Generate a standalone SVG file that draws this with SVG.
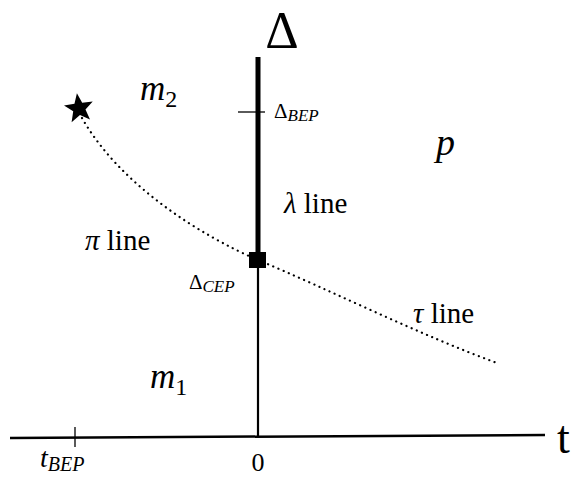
<svg xmlns="http://www.w3.org/2000/svg" width="584" height="479" viewBox="0 0 584 479">
<style>
.ax{stroke:#000;fill:none}
text{font-family:"Liberation Serif","DejaVu Serif",serif;fill:#000}
.m{font-style:italic}
.lbl{font-size:29px}
.dot{stroke:#000;fill:none;stroke-width:2.2;stroke-dasharray:0.1 5.5;stroke-linecap:round}
</style>
<rect width="584" height="479" fill="#fff"/>
<g id="connectors">
<line class="ax" x1="10" y1="438" x2="545" y2="435" stroke-width="2.5"/>
<line class="ax" x1="258" y1="437" x2="258" y2="262" stroke-width="2.2"/>
<line class="ax" x1="258" y1="262" x2="258" y2="57" stroke-width="5"/>
<line class="ax" x1="238" y1="112" x2="265" y2="112" stroke-width="1.3"/>
<line class="ax" x1="75" y1="427" x2="75" y2="447" stroke-width="1.3"/>
<path class="dot" d="M82,118 C120,185 200,235 258,260 C330,290 420,335 497,363"/>
</g>
<g id="star"><polygon points="79,93 82.9,103.2 93.5,103.5 85.2,110.5 88.3,121 79,115 69.7,121 72.8,110.5 64.5,103.5 75.1,103.2" fill="#000" transform="rotate(-8 79 108)"/></g>
<g id="cep"><rect x="249" y="252" width="17" height="16" fill="#000"/></g>
<g id="labels">
<text x="282" y="48" font-size="52" text-anchor="middle">Δ</text>
<text x="557" y="453" font-size="46">t</text>
<text x="258" y="471" font-size="26" text-anchor="middle">0</text>
<text class="m" x="140" y="100" font-size="35">m<tspan font-style="normal" font-size="24" dy="7">2</tspan></text>
<text class="m" x="150" y="388" font-size="35">m<tspan font-style="normal" font-size="24" dy="7">1</tspan></text>
<text class="m" x="436" y="155" font-size="38">p</text>
<text x="274" y="118" font-size="21">Δ<tspan class="m" font-size="17" dy="3">BEP</tspan></text>
<text x="189" y="289" font-size="21">Δ<tspan class="m" font-size="17" dy="3">CEP</tspan></text>
<text class="m" x="40" y="467" font-size="28">t<tspan font-size="20" dy="4">BEP</tspan></text>
<text class="lbl" x="284" y="213"><tspan class="m">λ</tspan> line</text>
<text class="lbl" x="85" y="250"><tspan class="m">π</tspan> line</text>
<text class="lbl" x="413" y="323"><tspan class="m">τ</tspan> line</text>
</g>
</svg>
